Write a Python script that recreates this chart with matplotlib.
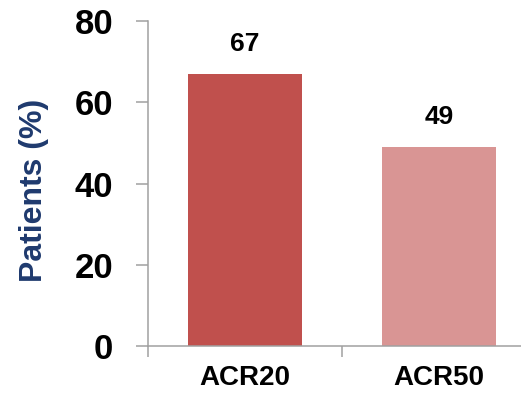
import matplotlib.pyplot as plt

categories = ['ACR20', 'ACR50']
patients_pct = [67, 49]
bar_colors = ['#C0504D', '#D99594']

plt.rcParams['font.family'] = ['Liberation Sans', 'DejaVu Sans']
plt.rcParams['font.weight'] = 'bold'

fig = plt.figure(figsize=(5.21, 4.03), dpi=100)
ax = fig.add_axes([0.284, 0.1414, 0.7447, 0.8065])

x = range(len(categories))
ax.bar(x, patients_pct, width=0.59, color=bar_colors)

# value labels above each bar
for xi, v in zip(x, patients_pct):
    ax.annotate(str(v), xy=(xi, v), xytext=(0, 13), textcoords='offset points',
                ha='center', va='bottom', fontsize=19, fontweight='bold')

ax.set_xlim(-0.5, 1.5)
ax.set_ylim(0, 80)
ax.set_yticks([0, 20, 40, 60, 80])
# ticks sit between categories, labels centred under bars
ax.set_xticks([-0.5, 0.5, 1.5])
ax.set_xticklabels([])
ax.set_xticks([0, 1], minor=True)
ax.set_xticklabels(categories, minor=True, fontsize=20, fontweight='bold')
ax.tick_params(axis='x', which='minor', length=0, pad=14)
ax.tick_params(axis='x', which='major', length=8, width=1.1, color='#A0A0A0')
ax.tick_params(axis='y', length=9, width=1.1, color='#A0A0A0', labelsize=25, pad=16)

for s in ['top', 'right']:
    ax.spines[s].set_visible(False)
for s in ['left', 'bottom']:
    ax.spines[s].set_color('#A0A0A0')
    ax.spines[s].set_linewidth(1.1)

ax.set_ylabel('Patients (%)', fontsize=23, fontweight='bold', color='#1F3A6E')
ax.yaxis.set_label_coords(-0.255, 0.48)

fig.savefig('out.png', dpi=100)
